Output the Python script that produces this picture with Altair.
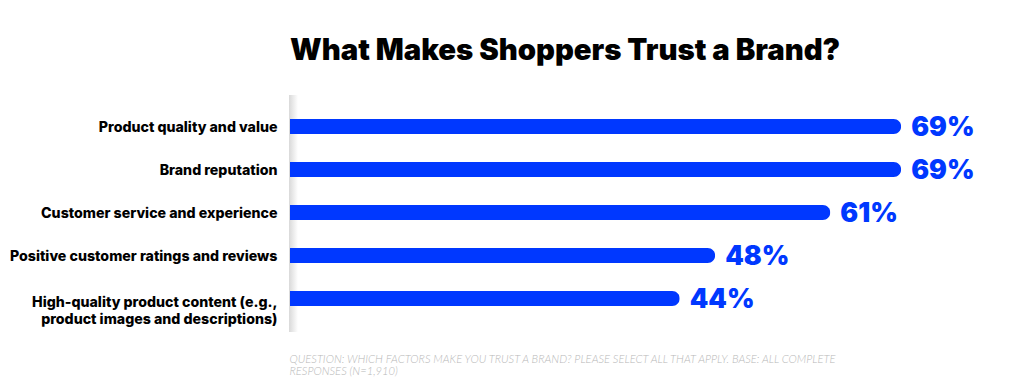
import altair as alt
import pandas as pd

categories = [
    "Product quality and value",
    "Brand reputation",
    "Customer service and experience",
    "Positive customer ratings and reviews",
    "High-quality product content (e.g.,|product images and descriptions)",
]
values = [69, 69, 61, 48, 44]
value_labels = ["69%", "69%", "61%", "48%", "44%"]

title_text = "What Makes Shoppers Trust a Brand?"
footnote = [
    "QUESTION: WHICH FACTORS MAKE YOU TRUST A BRAND? PLEASE SELECT ALL THAT APPLY. BASE: ALL COMPLETE",
    "RESPONSES (N=1,910)",
]

df = pd.DataFrame({"cat": categories, "val": values, "lab": value_labels})

BLUE = "#0038FF"
FONT = "Inter"
W, H = 620, 215

y_enc = alt.Y(
    "cat:N",
    sort=categories,
    axis=alt.Axis(
        title=None,
        domain=False,
        ticks=False,
        labelExpr="split(datum.label, '|')",
        labelFont=FONT,
        labelFontWeight=800,
        labelFontSize=14.2,
        labelColor="#000000",
        labelPadding=13,
        labelLimit=400,
        labelLineHeight=17,
        labelOffset={
            "condition": {"test": "indexof(datum.value, '|') >= 0", "value": 4},
            "value": 1,
        },
    ),
)
x_enc = alt.X(
    "val:Q",
    scale=alt.Scale(domain=[0, 70]),
    axis=alt.Axis(
        labels=False,
        ticks=False,
        domain=False,
        grid=False,
        title=footnote,
        titleFont="Lato",
        titleFontStyle="italic",
        titleFontWeight=300,
        titleFontSize=11.2,
        titleColor="#b8b8b8",
        titleAnchor="start",
        titleAlign="left",
        titleX=-1,
        titlePadding=33,
        titleLineHeight=12,
    ),
)

shadow = alt.Chart(df).mark_rect(
    fill=alt.Gradient(
        gradient="linear",
        stops=[
            alt.GradientStop(color="#d9d9d9", offset=0),
            alt.GradientStop(color="#ffffff", offset=1),
        ],
        x1=0, x2=1, y1=0, y2=0,
    )
).encode(
    x=alt.value(-1), x2=alt.value(8), y=alt.value(-10), y2=alt.value(H + 12)
)

bars = alt.Chart(df).mark_bar(size=15, color=BLUE, cornerRadiusEnd=7.5).encode(
    x=x_enc, y=y_enc
)

text = alt.Chart(df).mark_text(
    align="left",
    baseline="middle",
    dx=10,
    dy=1,
    font=FONT,
    fontWeight=900,
    fontSize=26.5,
    color=BLUE,
).encode(x="val:Q", y=alt.Y("cat:N", sort=categories), text="lab:N")

chart = alt.layer(shadow, bars, text).properties(
    width=W,
    height=H,
    padding={"left": 282, "top": 97, "right": 90, "bottom": 57},
    autosize=alt.AutoSizeParams(type="none"),
    title=alt.TitleParams(
        text=title_text,
        font=FONT,
        fontWeight=900,
        fontSize=29.3,
        color="#000000",
        anchor="start",
        frame="group",
        baseline="alphabetic",
        offset=6,
    ),
).configure_view(stroke=None)

chart.save("out.html", embed_options={"renderer": "svg", "actions": False})
